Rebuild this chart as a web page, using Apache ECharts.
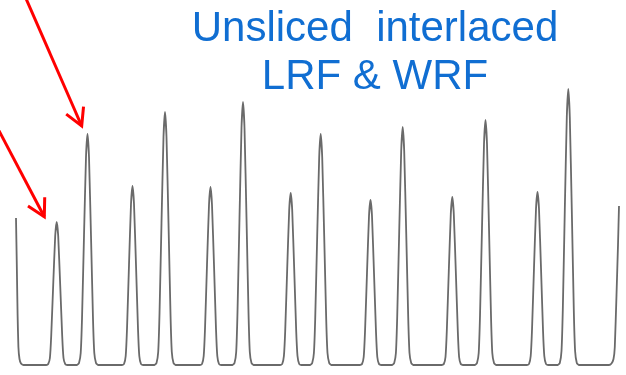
<!DOCTYPE html>
<html>
<head>
<meta charset="utf-8">
<script src="https://cdn.jsdelivr.net/npm/echarts@6/dist/echarts.min.js"></script>
<style>
  html, body { margin: 0; padding: 0; background: #fff; }
  #chart { width: 626px; height: 375px; }
</style>
</head>
<body>
<div id="chart"></div>
<script>
  // trace: [time, signal], one row per peak
  const leftEdge = [[16, 147], [16.8, 100], [17.6, 50], [18.4, 18], [19.5, 6], [21, 1.5], [23.5, 0]];
  const peakRows = [
    [[46.2, 0], [48.2, 1], [49.9, 7], [51.2, 29], [53.2, 80], [55.2, 129], [56.7, 143], [58.2, 129], [60.2, 80], [62.2, 29], [63.5, 7], [65.2, 1], [67.2, 0]],
    [[77, 0], [79, 2], [80.7, 12], [82, 46], [84, 129], [86, 208], [87.5, 231], [89, 208], [91, 129], [93, 46], [94.3, 12], [96, 2], [98, 0]],
    [[122, 0], [124, 1], [125.7, 9], [127, 36], [129, 100], [131, 161], [132.5, 179], [134, 161], [136, 100], [138, 36], [139.3, 9], [141, 1], [143, 0]],
    [[154.5, 0], [156.5, 2], [158.2, 13], [159.5, 51], [161.5, 142], [163.5, 228], [165, 253], [166.5, 228], [168.5, 142], [170.5, 51], [171.8, 13], [173.5, 2], [175.5, 0]],
    [[200, 0], [202, 1], [203.7, 9], [205, 36], [207, 100], [209, 160], [210.5, 178], [212, 160], [214, 100], [216, 36], [217.3, 9], [219, 1], [221, 0]],
    [[232.5, 0], [234.5, 2], [236.2, 13], [237.5, 53], [239.5, 147], [241.5, 237], [243, 263], [244.5, 237], [246.5, 147], [248.5, 53], [249.8, 13], [251.5, 2], [253.5, 0]],
    [[280.2, 0], [282.2, 1], [283.9, 9], [285.2, 34], [287.2, 96], [289.2, 155], [290.7, 172], [292.2, 155], [294.2, 96], [296.2, 34], [297.5, 9], [299.2, 1], [301.2, 0]],
    [[310.2, 0], [312.2, 2], [313.9, 12], [315.2, 46], [317.2, 129], [319.2, 208], [320.7, 231], [322.2, 208], [324.2, 129], [326.2, 46], [327.5, 12], [329.2, 2], [331.2, 0]],
    [[360, 0], [362, 1], [363.7, 8], [365, 33], [367, 92], [369, 149], [370.5, 165], [372, 149], [374, 92], [376, 33], [377.3, 8], [379, 1], [381, 0]],
    [[392.2, 0], [394.2, 2], [395.9, 12], [397.2, 48], [399.2, 133], [401.2, 214], [402.7, 238], [404.2, 214], [406.2, 133], [408.2, 48], [409.5, 12], [411.2, 2], [413.2, 0]],
    [[441.8, 0], [443.8, 1], [445.5, 8], [446.8, 34], [448.8, 94], [450.8, 151], [452.3, 168], [453.8, 151], [455.8, 94], [457.8, 34], [459.1, 8], [460.8, 1], [462.8, 0]],
    [[475, 0], [477, 2], [478.7, 12], [480, 49], [482, 137], [484, 221], [485.5, 245], [487, 221], [489, 137], [491, 49], [492.3, 12], [494, 2], [496, 0]],
    [[527, 0], [529, 1], [530.7, 9], [532, 35], [534, 97], [536, 156], [537.5, 173], [539, 156], [541, 97], [543, 35], [544.3, 9], [546, 1], [548, 0]],
    [[557.8, 0], [559.8, 2], [561.5, 14], [562.8, 55], [564.8, 155], [566.8, 248], [568.3, 276], [569.8, 248], [571.8, 155], [573.8, 55], [575.1, 14], [576.8, 2], [578.8, 0]]
  ];
  const rightEdge = [[609, 0], [611.5, 1.5], [613.5, 6], [614.8, 18], [616.5, 70], [618, 120], [619, 159]];

  const titleLines = ['Unsliced  interlaced', 'LRF & WRF'];
  // arrows in data units: tail -> tip
  const arrowTails = [[24, 371], [-4, 240]];
  const arrowTips = [[81.7, 239], [44.3, 148.3]];

  const trace = leftEdge.concat(...peakRows, rightEdge);

  const chart = echarts.init(document.getElementById('chart'));

  chart.setOption({
    animation: false,
    grid: { left: 0, right: 0, top: 0, bottom: 10 },
    xAxis: { type: 'value', min: 0, max: 626, show: false },
    yAxis: { type: 'value', min: 0, max: 365, show: false },
    series: [{
      type: 'line',
      data: trace,
      symbol: 'none',
      smooth: 0.15,
      lineStyle: { color: '#6a6a6a', width: 1.8, join: 'round' }
    }]
  });

  const graphics = titleLines.map((t, i) => ({
    type: 'text',
    id: 'title' + i,
    x: 375,
    y: 29 + i * 48.5,
    style: {
      text: t,
      fill: '#106ed2',
      font: '42px "Liberation Sans", Arial, sans-serif',
      textAlign: 'center', align: 'center',
      textVerticalAlign: 'middle', verticalAlign: 'middle'
    }
  }));

  // red arrows with open chevron heads
  arrowTails.forEach((tail, i) => {
    const a = chart.convertToPixel({ gridIndex: 0 }, tail);
    const b = chart.convertToPixel({ gridIndex: 0 }, arrowTips[i]);
    const len = Math.hypot(a[0] - b[0], a[1] - b[1]);
    const ux = (a[0] - b[0]) / len, uy = (a[1] - b[1]) / len;
    const ang = 29 * Math.PI / 180, head = 19.5;
    const w1 = [b[0] + head * (ux * Math.cos(ang) - uy * Math.sin(ang)), b[1] + head * (ux * Math.sin(ang) + uy * Math.cos(ang))];
    const w2 = [b[0] + head * (ux * Math.cos(-ang) - uy * Math.sin(-ang)), b[1] + head * (ux * Math.sin(-ang) + uy * Math.cos(-ang))];
    const st = { stroke: '#ff0000', lineWidth: 3, fill: null, lineJoin: 'miter' };
    graphics.push({ type: 'polyline', id: 'shaft' + i, shape: { points: [a, b] }, style: st });
    graphics.push({ type: 'polyline', id: 'head' + i, shape: { points: [w1, b, w2] }, style: st });
  });
  chart.setOption({ graphic: graphics });
</script>
</body>
</html>
